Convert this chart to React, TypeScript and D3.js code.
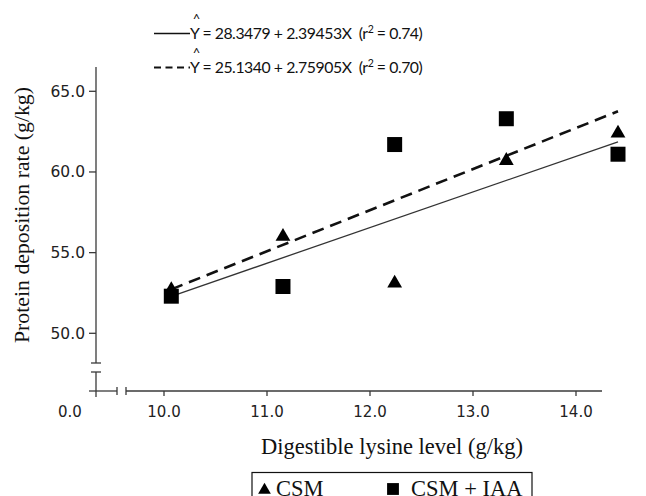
import React from 'react'
import * as d3 from 'd3'

// lysine levels (g/kg) and protein deposition rate (g/kg)
const lysine = [10, 11, 12, 13, 14]
const csm = [52.7, 56.0, 53.1, 60.7, 62.4]
const csmIaa = [52.3, 52.9, 61.7, 63.3, 61.1]

const xTicks = [10, 11, 12, 13, 14]
const yTicks = [50, 55, 60, 65]

// regression fits: solid = CSM, dashed = CSM + IAA
const fitIntercept = [28.3479, 25.134]
const fitSlope = [2.39453, 2.75905]
const fitText = ['= 28.3479 + 2.39453X', '= 25.1340 + 2.75905X']
const fitR2 = ['0.74', '0.70']
const seriesNames = ['CSM', 'CSM + IAA']

const W = 646
const H = 496
const axisX = 96
const axisY = 391
const ink = '#3a3a3a'
const tickFont = '"DejaVu Sans", sans-serif'
const serif = '"Liberation Serif", "Times New Roman", serif'
const eqFont = 'Lato, sans-serif'

export default function App() {
  const y = d3.scaleLinear().domain([50, 65]).range([333.3, 91.3])
  // axis ticks and plotted marks use slightly different horizontal spacing in the source figure
  const xAxis = d3.scaleLinear().domain([10, 14]).range([164, 576])
  const xPts = d3.scaleLinear().domain([10, 14]).range([171.3, 618])

  const tri = d3.symbol(d3.symbolTriangle, 95)()
  const sq = d3.symbol(d3.symbolSquare, 225)()
  const triSmall = d3.symbol(d3.symbolTriangle, 70)()
  const sqSmall = d3.symbol(d3.symbolSquare, 140)()

  const fitLine = (i: number) =>
    d3.line<number>()
      .x(d => xPts(d))
      .y(d => y(fitIntercept[i] + fitSlope[i] * d))([lysine[0], lysine[lysine.length - 1]])

  return (
    <svg width={W} height={H} style={{ position: 'absolute', left: 0, top: 0, background: '#fff' }}>
      {/* equation legend */}
      {fitText.map((t, i) => {
        const cy = 33.5 + i * 34
        return (
          <g key={t}>
            <line x1={154} x2={190} y1={cy} y2={cy} stroke="#111"
              strokeWidth={i === 0 ? 1.5 : 2} strokeDasharray={i === 0 ? undefined : '7,4.5'} />
            <text x={196.5} y={cy - 10} fontFamily={eqFont} fontSize={13} textAnchor="middle" fill="#111">^</text>
            <text x={190} y={cy + 5.5} fontFamily={eqFont} fontSize={15.8} letterSpacing={-0.45} fill="#111" style={{ whiteSpace: 'pre' }}>
              {'Y ' + t + '  (r'}
              <tspan fontSize={10.5} dy={-6}>2</tspan>
              <tspan dy={6}>{' = ' + fitR2[i] + ')'}</tspan>
            </text>
          </g>
        )
      })}

      {/* y axis with break */}
      <g stroke={ink} strokeWidth={1.3}>
        <line x1={axisX} x2={axisX} y1={67} y2={363} />
        <line x1={axisX - 5} x2={axisX + 5} y1={363} y2={363} />
        <line x1={axisX} x2={axisX} y1={372} y2={397} />
        <line x1={axisX - 5} x2={axisX + 5} y1={372} y2={372} />
        {yTicks.map(t => (
          <line key={t} x1={axisX - 7} x2={axisX} y1={y(t)} y2={y(t)} />
        ))}
      </g>
      {yTicks.map(t => (
        <text key={t} x={85} y={y(t) + 5.5} textAnchor="end" fontFamily={tickFont} fontSize={15.5} fill="#222">
          {t.toFixed(1)}
        </text>
      ))}

      {/* x axis with break */}
      <g stroke={ink} strokeWidth={1.3}>
        <line x1={89} x2={117} y1={axisY} y2={axisY} />
        <line x1={117} x2={117} y1={387} y2={395} />
        <line x1={126} x2={602} y1={axisY} y2={axisY} />
        <line x1={126} x2={126} y1={387} y2={395} />
        {xTicks.map(t => (
          <line key={t} x1={xAxis(t)} x2={xAxis(t)} y1={axisY} y2={axisY + 5} />
        ))}
      </g>
      <text x={70} y={417} textAnchor="middle" fontFamily={tickFont} fontSize={15} fill="#222">0.0</text>
      {xTicks.map(t => (
        <text key={t} x={xAxis(t)} y={417} textAnchor="middle" fontFamily={tickFont} fontSize={15} fill="#222">
          {t.toFixed(1)}
        </text>
      ))}

      {/* axis titles */}
      <text transform="translate(29,215) rotate(-90)" textAnchor="middle" fontFamily={serif} fontSize={21.8} fill="#111">
        Protein deposition rate (g/kg)
      </text>
      <text x={392} y={454} textAnchor="middle" fontFamily={serif} fontSize={22.5} fill="#111">
        Digestible lysine level (g/kg)
      </text>

      {/* regression lines */}
      <path d={fitLine(0) ?? ''} fill="none" stroke="#333" strokeWidth={1.3} />
      <path d={fitLine(1) ?? ''} fill="none" stroke="#111" strokeWidth={2.6} strokeDasharray="12,7" />

      {/* points */}
      {lysine.map((x, i) => (
        <path key={'s' + x} d={sq ?? ''} transform={`translate(${xPts(x)},${y(csmIaa[i])})`} fill="#000" />
      ))}
      {lysine.map((x, i) => (
        <path key={'t' + x} d={tri ?? ''} transform={`translate(${xPts(x)},${y(csm[i])})`} fill="#000" />
      ))}

      {/* series legend */}
      <rect x={252} y={472.5} width={280} height={40} fill="none" stroke="#111" strokeWidth={1.2} />
      <path d={triSmall ?? ''} transform="translate(264.5,490)" fill="#000" />
      <text x={276} y={495.5} fontFamily={serif} fontSize={22.5} fill="#111">{seriesNames[0]}</text>
      <path d={sqSmall ?? ''} transform="translate(393,489)" fill="#000" />
      <text x={411} y={495.5} fontFamily={serif} fontSize={22.5} fill="#111">{seriesNames[1]}</text>
    </svg>
  )
}
